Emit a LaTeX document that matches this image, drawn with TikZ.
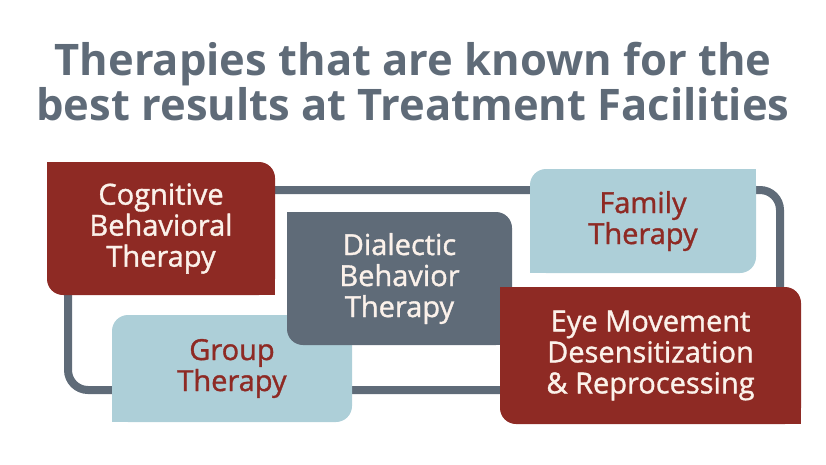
\documentclass[tikz,border=0pt]{standalone}
\usepackage{fontspec}
\setmainfont{Open Sans}
\newfontfamily\semifont[FakeBold=1.2]{Open Sans}
\usetikzlibrary{positioning, calc}
\definecolor{brick}{HTML}{8E2A24}
\definecolor{slate}{HTML}{5F6B78}
\definecolor{pale}{HTML}{ADCFD8}
\definecolor{cream}{HTML}{FBF1EA}
\newcommand\rc{16pt}
% square off two corners of a rounded panel
\newcommand\sharpmain[2]{%
  \fill[#2] (#1.north west) rectangle ++(\rc,-\rc);
  \fill[#2] (#1.south east) rectangle ++(-\rc,\rc);}
\newcommand\sharpanti[2]{%
  \fill[#2] (#1.north east) rectangle ++(-\rc,-\rc);
  \fill[#2] (#1.south west) rectangle ++(\rc,\rc);}

\begin{document}
\begin{tikzpicture}[x=1pt, y=-1pt,
    panel/.style={rounded corners=\rc, inner sep=0pt, align=center,
      font=\semifont\fontsize{29}{31}\selectfont},
    dark/.style={panel, fill=brick, text=cream},
    grey/.style={panel, fill=slate, text=cream},
    light/.style={panel, fill=pale, text=brick}]
    \useasboundingbox (0,0) rectangle (826,464);

    \node (title) [text=slate, align=center, font=\fontsize{43.5}{45}\selectfont\bfseries] at (413,82) {Therapies that are known for the\\best results at Treatment Facilities};

    \draw[slate, line width=8pt, rounded corners=20pt] (68,190) rectangle (780,390);

    \node (cbt) [dark, minimum width=228pt, minimum height=133pt] at (161,228.5) {Cognitive\\Behavioral\\Therapy};
    \sharpmain{cbt}{brick}
    \node (group) [light, minimum width=240pt, minimum height=107pt] at (232,368.5) {Group\\Therapy};
    \sharpanti{group}{pale}
    \node (dbt) [grey, minimum width=225pt, minimum height=133pt] at (399.5,278.5) {Dialectic\\Behavior\\Therapy};
    \sharpmain{dbt}{slate}
    \node (family) [light, minimum width=226pt, minimum height=104pt] at (643,221) {Family\\Therapy};
    \sharpanti{family}{pale}
    \node (emdr) [dark, minimum width=301pt, minimum height=137pt] at (650.5,355.5) {Eye Movement\\Desensitization\\\& Reprocessing};
    \sharpmain{emdr}{brick}
\end{tikzpicture}
\end{document}
